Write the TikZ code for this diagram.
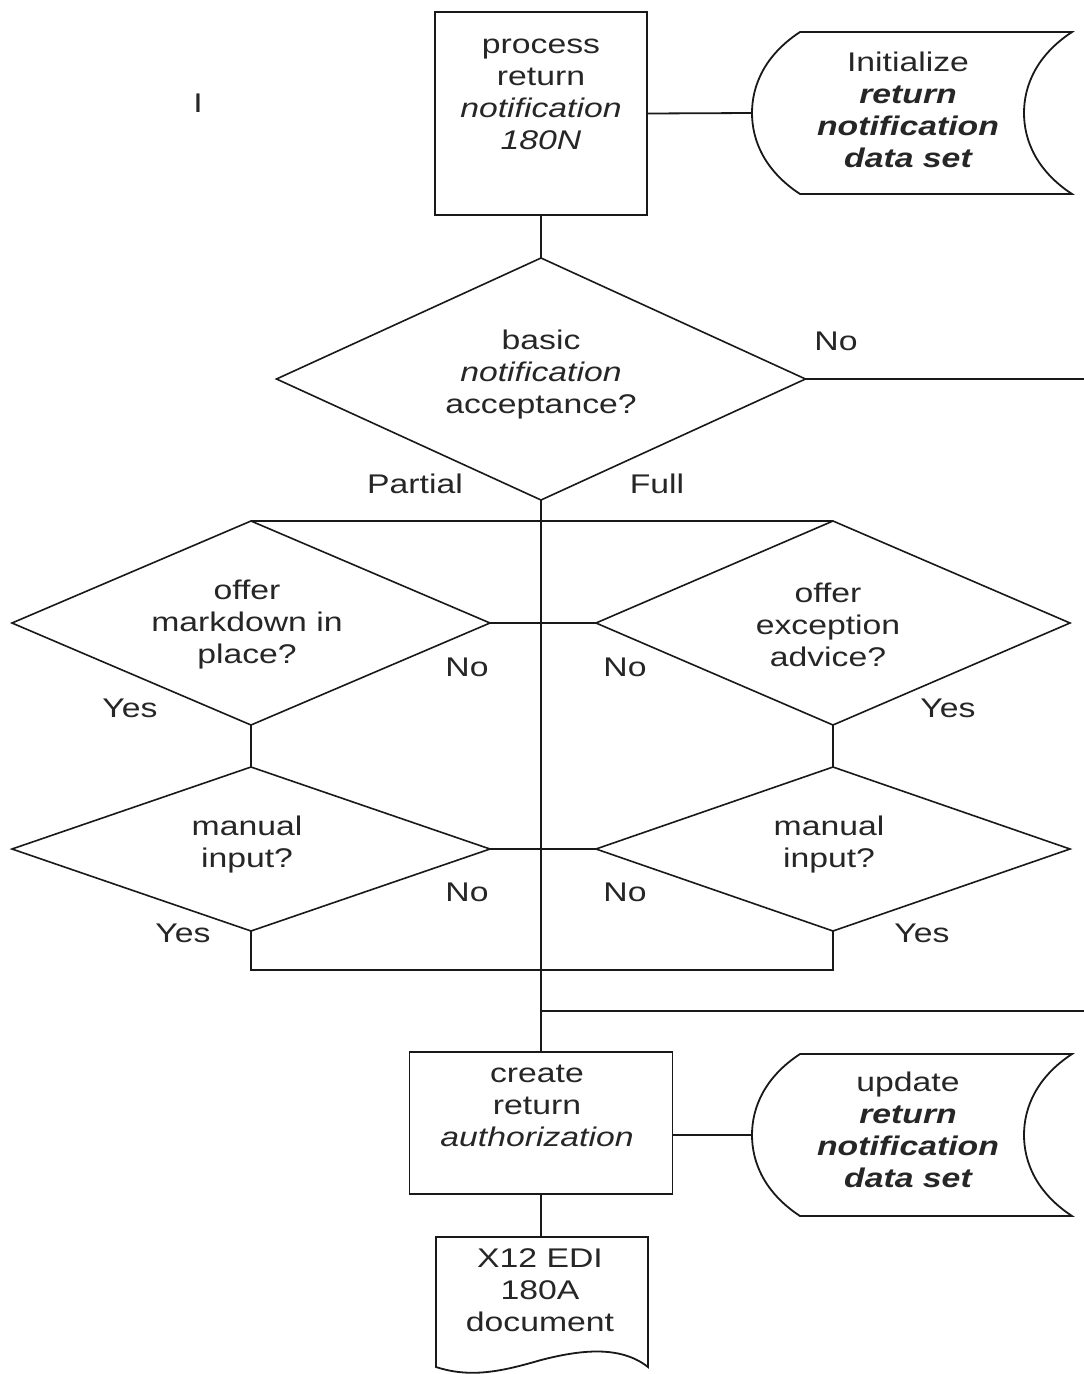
\documentclass[tikz,border=0pt]{standalone}
\usepackage{fontspec}
\setmainfont{Liberation Sans}[FakeStretch=1.25]
\usetikzlibrary{shapes.geometric}
\begin{document}
\begin{tikzpicture}[x=1pt,y=-1pt,
  every node/.style={inner sep=0pt,outer sep=0pt},
  ln/.style={line width=1.8pt,draw=black!90},
  txt/.style={align=center,font=\fontsize{27}{32}\selectfont,text=black!85},
  lbl/.style={font=\fontsize{27}{32}\selectfont,text=black!85},
  procbox/.style={draw=black!90,line width=1.8pt,rectangle},
  dec/.style={draw=black!90,line width=1.6pt,diamond,aspect=2.2}]
\useasboundingbox (0,0) rectangle (1084,1374);
\fill[white] (0,0) rectangle (1084,1374);

% stray mark
\node[lbl] (stray) at (198,103) {I};

% process box
\node[procbox,minimum width=212pt,minimum height=203pt] (proc) at (541,113.5) {};
\node[txt] (proct) at (541,94) {process\\return\\\itshape notification\\\itshape 180N};

% data store 1
\node[minimum width=320pt,minimum height=162pt] (ds1) at (912,113) {};
\draw[ln] (800,32) .. controls (765,55) and (752,85) .. (752,113)
  .. controls (752,141) and (765,171) .. (800,194) -- (1072,194)
  .. controls (1037,171) and (1024,141) .. (1024,113)
  .. controls (1024,85) and (1037,55) .. (1072,32) -- cycle;
\coordinate (ds1w) at (752,113);
\node[txt] (ds1t) at (908,110) {Initialize\\\bfseries\itshape return\\\bfseries\itshape notification\\\bfseries\itshape data set};
\draw[ln] (proc.east) -- (ds1w);

% decision 1
\node[dec,minimum width=529pt,minimum height=242pt] (d1) at (541,379) {};
\node[txt] (d1t) at (541,375) {basic\\\itshape notification\\acceptance?};
\draw[ln] (proc.south) -- (d1.north);
\coordinate (d1end) at (1084,379);
\draw[ln] (d1.east) -- (d1end);
\node[lbl] (no1) at (836,341) {No};
\node[lbl] (partial) at (415,484) {Partial};
\node[lbl] (full) at (657,484) {Full};

% decision 2 (left), 3 (right)
\node[dec,minimum width=478pt,minimum height=204pt] (d2) at (251,623) {};
\node[txt] (d2t) at (247,625) {offer\\markdown in\\place?};
\node[dec,minimum width=474pt,minimum height=204pt] (d3) at (833,623) {};
\node[txt] (d3t) at (828,625) {offer\\exception\\advice?};
\draw[ln] (d2.north) -- (d3.north);
\draw[ln] (d2.east) -- (d3.west);
\node[lbl] (no2) at (467,667) {No};
\node[lbl] (yes2) at (130,708) {Yes};
\node[lbl] (no3) at (625,667) {No};
\node[lbl] (yes3) at (948,708) {Yes};

% manual input decisions
\node[dec,minimum width=478pt,minimum height=164pt] (m1) at (251,849) {};
\node[txt] (m1t) at (247,845) {manual\\input?};
\node[dec,minimum width=474pt,minimum height=164pt] (m2) at (833,849) {};
\node[txt] (m2t) at (829,845) {manual\\input?};
\draw[ln] (d2.south) -- (m1.north);
\draw[ln] (d3.south) -- (m2.north);
\draw[ln] (m1.east) -- (m2.west);
\draw[ln] (m1.south) -- ++(0,39) -| (m2.south);
\node[lbl] (no4) at (467,892) {No};
\node[lbl] (yes4) at (183,933) {Yes};
\node[lbl] (no5) at (625,892) {No};
\node[lbl] (yes5) at (922,933) {Yes};

% create box
\node[procbox,minimum width=263pt,minimum height=142pt] (create) at (541,1123) {};
\node[txt] (createt) at (537,1106) {create\\return\\\itshape authorization};
\draw[ln] (d1.south) -- (create.north);
\coordinate (jn) at (541,1011);
\coordinate (jnend) at (1084,1011);
\draw[ln] (jn) -- (jnend);

% data store 2
\node[minimum width=320pt,minimum height=162pt] (ds2) at (912,1135) {};
\draw[ln] (800,1054) .. controls (765,1077) and (752,1107) .. (752,1135)
  .. controls (752,1163) and (765,1193) .. (800,1216) -- (1072,1216)
  .. controls (1037,1193) and (1024,1163) .. (1024,1135)
  .. controls (1024,1107) and (1037,1077) .. (1072,1054) -- cycle;
\coordinate (ds2w) at (752,1135);
\node[txt] (ds2t) at (908,1130) {update\\\bfseries\itshape return\\\bfseries\itshape notification\\\bfseries\itshape data set};
\draw[ln] (create.east |- ds2w) -- (ds2w);

% document
\coordinate (doc) at (541,1237);
\draw[ln] (436,1237) -- (648,1237) -- (648,1367)
  .. controls (620,1345) and (580,1350) .. (541,1360)
  .. controls (500,1372) and (470,1378) .. (436,1367) -- cycle;
\node[txt] (doct) at (540,1290) {X12 EDI\\180A\\document};
\draw[ln] (create.south) -- (doc);
\end{tikzpicture}
\end{document}
